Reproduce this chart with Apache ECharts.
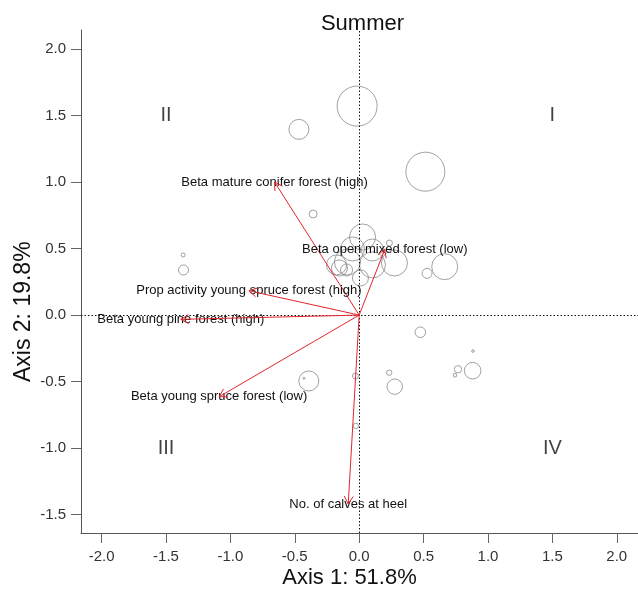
<!DOCTYPE html>
<html>
<head>
<meta charset="utf-8">
<script src="https://cdn.jsdelivr.net/npm/echarts@6/dist/echarts.min.js"></script>
<style>html,body{margin:0;padding:0;background:#fff}#chart{width:638px;height:595px}</style>
</head>
<body>
<div id="chart"></div>
<script>
// ---- data ----
const bubbleX = [-0.016, -0.468, 0.514, -0.357, 0.026, -0.052, 0.103, -0.091, -0.153, -0.098, 0.103, 0.010, 0.274, 0.235, -0.176, 0.527, 0.664, -1.367, -1.364, 0.475, 0.884, 0.767, 0.744, 0.881, 0.233, 0.276, -0.391, -0.429, -0.026, -0.029];
const bubbleY = [1.571, 1.396, 1.078, 0.760, 0.587, 0.497, 0.489, 0.399, 0.354, 0.339, 0.377, 0.279, 0.392, 0.542, 0.377, 0.314, 0.364, 0.452, 0.339, -0.129, -0.270, -0.407, -0.452, -0.418, -0.433, -0.538, -0.495, -0.475, -0.833, -0.458];
const bubbleSize = [20, 10, 19.5, 4, 13, 12, 11, 13, 8, 6, 13, 8, 13, 3, 10, 5, 13, 2, 5, 5.3, 1.3, 3.7, 1.7, 8.3, 2.7, 7.7, 10, 1, 2.7, 3];

const arrowLabels = ['Beta mature conifer forest (high)', 'Beta open mixed forest (low)', 'Prop activity young spruce forest (high)', 'Beta young pine forest (high)', 'Beta young spruce forest (low)', 'No. of calves at heel'];
const arrowX = [-0.657, 0.199, -0.856, -1.385, -1.088, -0.085];
const arrowY = [1.0, 0.494, 0.183, -0.032, -0.614, -1.42];

const quadLabels = ['I', 'II', 'III', 'IV'];
const quadX = [1.5, -1.5, -1.5, 1.5];
const quadY = [1.5, 1.5, -1.0, -1.0];

const xTicks = [-2.0, -1.5, -1.0, -0.5, 0.0, 0.5, 1.0, 1.5, 2.0];
const yTicks = [-1.5, -1.0, -0.5, 0.0, 0.5, 1.0, 1.5, 2.0];

const titleText = 'Summer';
const xTitle = 'Axis 1: 51.8%';
const yTitle = 'Axis 2: 19.8%';

// ---- chart ----
const FONT = 'Liberation Sans, Arial, sans-serif';
const RED = '#e3262d';
const chart = echarts.init(document.getElementById('chart'), null, {renderer: 'canvas'});

const axisCommon = {
  type: 'value',
  splitLine: {show: false},
  axisLine: {show: true, onZero: false, lineStyle: {color: '#555', width: 1}},
  axisTick: {show: true, inside: false, length: 10, lineStyle: {color: '#666', width: 1}},
};

chart.setOption({
  animation: false,
  backgroundColor: '#fff',
  title: {
    text: titleText, left: 357.5, top: 8, textAlign: 'center',
    textStyle: {fontFamily: FONT, fontSize: 22, fontWeight: 'normal', color: '#111'}
  },
  grid: {left: 81, right: 0, top: 30, bottom: 62, containLabel: false, outerBoundsMode: 'none'},
  xAxis: Object.assign({}, axisCommon, {
    min: -2.16, max: 2.165,
    axisTick: Object.assign({}, axisCommon.axisTick, {customValues: xTicks}),
    axisLabel: {customValues: xTicks, formatter: v => v.toFixed(1), margin: 16,
      fontFamily: FONT, fontSize: 15, color: '#333'}
  }),
  yAxis: Object.assign({}, axisCommon, {
    min: -1.638, max: 2.143,
    axisTick: Object.assign({}, axisCommon.axisTick, {customValues: yTicks}),
    axisLabel: {customValues: yTicks, formatter: v => v.toFixed(1), margin: 15,
      fontFamily: FONT, fontSize: 15, color: '#333'}
  }),
  graphic: [
    {type: 'text', x: 349.5, y: 578, style: {text: xTitle, align: 'center', verticalAlign: 'middle',
      fontFamily: FONT, fontSize: 22, fill: '#111'}},
    {type: 'text', x: 24, y: 311.7, rotation: Math.PI / 2, style: {text: yTitle, align: 'center', verticalAlign: 'middle',
      fontFamily: FONT, fontSize: 23, fill: '#111'}}
  ],
  series: [
    {
      type: 'scatter',
      data: bubbleX.map((x, i) => [x, bubbleY[i], bubbleSize[i]]),
      symbol: 'circle',
      symbolSize: v => 2 * v[2],
      itemStyle: {color: 'rgba(0,0,0,0)', borderColor: '#8a8a8a', borderWidth: 1},
      emphasis: {disabled: true},
      silent: true,
      z: 2,
      markLine: {
        silent: true, symbol: ['none', 'none'],
        label: {show: false},
        lineStyle: {type: [1.5, 2], color: '#111', width: 1},
        data: [{xAxis: 0}, {yAxis: 0}]
      }
    },
    {
      type: 'scatter',
      data: quadX.map((x, i) => [x, quadY[i]]),
      symbolSize: 0,
      silent: true,
      label: {show: true, position: 'inside', formatter: p => quadLabels[p.dataIndex],
        fontFamily: FONT, fontSize: 20, color: '#111'},
      z: 3
    },
    {
      type: 'custom',
      data: arrowX.map((x, i) => [x, arrowY[i]]),
      silent: true,
      z: 5,
      renderItem: function (params, api) {
        const o = api.coord([0, 0]);
        const t = api.coord([api.value(0), api.value(1)]);
        const ang = Math.atan2(t[1] - o[1], t[0] - o[0]);
        const L = 9, a = Math.PI / 6;
        const p1 = [t[0] - L * Math.cos(ang - a), t[1] - L * Math.sin(ang - a)];
        const p2 = [t[0] - L * Math.cos(ang + a), t[1] - L * Math.sin(ang + a)];
        return {
          type: 'group',
          children: [
            {type: 'text', style: {text: arrowLabels[params.dataIndex], x: t[0], y: t[1],
              align: 'center', verticalAlign: 'middle', fontFamily: FONT, fontSize: 13, fill: '#111'}},
            {type: 'line', shape: {x1: o[0], y1: o[1], x2: t[0], y2: t[1]},
              style: {stroke: RED, lineWidth: 1}},
            {type: 'polyline', shape: {points: [p1, t, p2]},
              style: {stroke: RED, fill: null, lineWidth: 1}}
          ]
        };
      }
    }
  ]
});
</script>
</body>
</html>
